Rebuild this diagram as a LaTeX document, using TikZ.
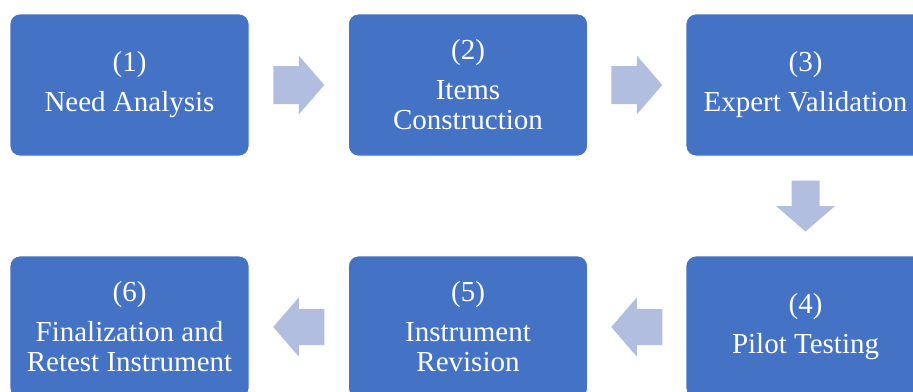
\documentclass[tikz,border=0pt]{standalone}
\usepackage{fontspec}
\setmainfont{Liberation Serif}
\usepackage{xcolor}
\usepackage{tikz}
\usetikzlibrary{
	calc,
	positioning
}
\definecolor{stepblue}{HTML}{4472C4}
\definecolor{arrowblue}{HTML}{B1BEE0}
\tikzset{
	stepbox/.style={rectangle, rounded corners=10pt, fill=stepblue, draw=white, line width=0.75pt,
		minimum width=239pt, minimum height=142pt, text=white, align=center,
		font=\fontsize{29}{30}\selectfont, inner sep=0pt},
	fatarrow/.style={fill=arrowblue}
}

\begin{document}
\begin{tikzpicture}[x=1pt, y=-1pt]
		\useasboundingbox (0,0) rectangle (913,391);
		\clip (0,0) rectangle (913,391);
		\node[stepbox] (n1) at (129.5,85) {(1)\\[10pt]Need Analysis};
		\node[stepbox] (n2) at (468,85) {(2)\\[10pt]Items\\Construction};
		\node[stepbox] (n3) at (805.5,85) {(3)\\[10pt]Expert Validation};
		\node[stepbox] (n4) at (805.5,327) {(4)\\[10pt]Pilot Testing};
		\node[stepbox] (n5) at (468,327) {(5)\\[10pt]Instrument\\Revision};
		\node[stepbox] (n6) at (129.5,327) {(6)\\[10pt]Finalization and\\Retest Instrument};
		\foreach \a/\b/\r/\w in {n1/n2/0/19, n2/n3/0/19, n3/n4/-90/14, n4/n5/180/18, n5/n6/180/18}
			\fill[fatarrow, shift={($(\a)!0.5!(\b)$)}, rotate=\r]
				(-25.5,-\w) -- (0,-\w) -- (0,-29.5) -- (25.5,0) -- (0,29.5) -- (0,\w) -- (-25.5,\w) -- cycle;
	\end{tikzpicture}
\end{document}
